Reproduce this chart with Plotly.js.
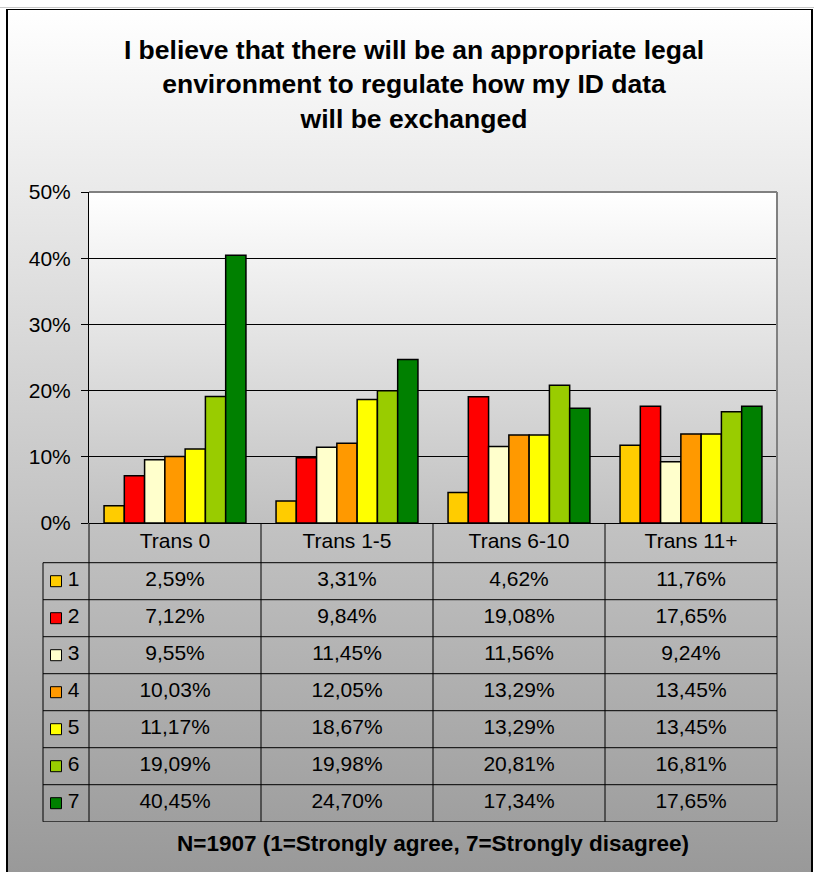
<!DOCTYPE html>
<html>
<head>
<meta charset="utf-8">
<script src="https://cdn.plot.ly/plotly-3.0.1.min.js"></script>
<style>
  html, body { margin: 0; padding: 0; background: #fff; }
  #wrap { position: relative; width: 814px; height: 872px; overflow: hidden; background: #fff; }
  #topline { position: absolute; left: 0; top: 7px; width: 814px; height: 1px; background: #c8c8c8; }
  #frame { position: absolute; left: 6px; top: 9px; width: 807px; height: 900px; box-sizing: border-box;
           border-left: 2px solid #000; border-top: 1px solid #000; border-right: 2px solid #000;
           background: linear-gradient(to bottom, #ffffff 0px, #999999 863px); }
  #plotbg { position: absolute; left: 89px; top: 192px; width: 688px; height: 331px;
            background: linear-gradient(to bottom, #ffffff 0%, #c0c0c0 100%); }
  #chart { position: absolute; left: 0; top: 0; width: 814px; height: 872px; }
</style>
</head>
<body>
<div id="wrap">
  <div id="topline"></div>
  <div id="frame"></div>
  <div id="plotbg"></div>
  <div id="chart"></div>
</div>
<script>
// ---------- data ----------
const categories = ['Trans 0', 'Trans 1-5', 'Trans 6-10', 'Trans 11+'];
const seriesNames = ['1', '2', '3', '4', '5', '6', '7'];
const s1 = [2.59, 3.31, 4.62, 11.76];
const s2 = [7.12, 9.84, 19.08, 17.65];
const s3 = [9.55, 11.45, 11.56, 9.24];
const s4 = [10.03, 12.05, 13.29, 13.45];
const s5 = [11.17, 18.67, 13.29, 13.45];
const s6 = [19.09, 19.98, 20.81, 16.81];
const s7 = [40.45, 24.70, 17.34, 17.65];
const seriesColors = ['#FFCC00', '#FF0000', '#FFFFCC', '#FF9900', '#FFFF00', '#99CC00', '#008000'];
const titleText = '<b>I believe that there will be an appropriate legal<br>environment to regulate how my ID data<br>will be exchanged</b>';
const noteText = '<b>N=1907 (1=Strongly agree, 7=Strongly disagree)</b>';

// ---------- layout geometry (pixels) ----------
const W = 814, H = 872;
const PL = 89, PR = 777, PT = 192, PB = 523;   // plot area
const HB = 562.7, TB = 821.7, LL = 43;          // table header bottom, table bottom, legend column left
const px = v => v / W;
const py = v => 1 - v / H;
const FONT = 'Arial, "Liberation Sans", sans-serif';

const series = [s1, s2, s3, s4, s5, s6, s7];
const traces = [];

// bars
series.forEach((vals, i) => {
  traces.push({
    type: 'bar', x: categories, y: vals, name: seriesNames[i],
    marker: { color: seriesColors[i], line: { color: '#000', width: 1.5 } },
    xaxis: 'x', yaxis: 'y', hoverinfo: 'skip', showlegend: false
  });
});

// table header
traces.push({
  type: 'scatter', mode: 'text', x: categories, y: categories.map(() => 0.5),
  text: categories, textposition: 'middle center',
  textfont: { family: FONT, size: 21, color: '#000' },
  xaxis: 'x', yaxis: 'y3', hoverinfo: 'skip', showlegend: false, cliponaxis: false
});

// table cells
const cx = [], cy = [], ct = [];
series.forEach((vals, i) => {
  vals.forEach((v, j) => {
    cx.push(categories[j]);
    cy.push(i + 0.5);
    ct.push(v.toFixed(2).replace('.', ',') + '%');
  });
});
traces.push({
  type: 'scatter', mode: 'text', x: cx, y: cy, text: ct, textposition: 'middle center',
  textfont: { family: FONT, size: 21, color: '#000' },
  xaxis: 'x', yaxis: 'y2', hoverinfo: 'skip', showlegend: false, cliponaxis: false
});

// legend keys column
const rowPos = seriesNames.map((n, i) => i + 0.5);
traces.push({
  type: 'scatter', mode: 'markers', x: seriesNames.map(() => 13), y: rowPos,
  marker: { symbol: 'square', size: 11, color: seriesColors, line: { color: '#000', width: 1 } },
  xaxis: 'x3', yaxis: 'y2', hoverinfo: 'skip', showlegend: false, cliponaxis: false
});
traces.push({
  type: 'scatter', mode: 'text', x: seriesNames.map(() => 30.5), y: rowPos,
  text: seriesNames, textposition: 'middle center',
  textfont: { family: FONT, size: 21, color: '#000' },
  xaxis: 'x3', yaxis: 'y2', hoverinfo: 'skip', showlegend: false, cliponaxis: false
});

// ---------- table / frame lines ----------
const shapes = [];
const line = (x0, y0, x1, y1, xref, yref, color, width) =>
  shapes.push({ type: 'line', x0, y0, x1, y1, xref, yref, layer: 'above',
                line: { color: color, width: width } });

// plot border top & right (gray)
line(px(PL), py(PT), px(PR), py(PT), 'paper', 'paper', '#808080', 2);
line(px(PR), py(PT), px(PR), py(PB), 'paper', 'paper', '#808080', 2);
// table right border
line(px(PR), py(PB), px(PR), py(TB), 'paper', 'paper', '#404040', 1.5);
// left axis continues down through table
line(px(PL), py(PB), px(PL), py(TB), 'paper', 'paper', '#000', 1);
// category separators
for (let k = 0; k < categories.length - 1; k++) {
  line(k + 0.5, py(PB), k + 0.5, py(TB), 'x', 'paper', '#000', 1);
}
// legend column left border
line(px(LL), py(HB), px(LL), py(TB), 'paper', 'paper', '#000', 1);
// header bottom line
line(px(LL), py(HB), px(PR), py(HB), 'paper', 'paper', '#000', 1);
// row lines
for (let r = 1; r <= seriesNames.length; r++) {
  line(px(LL), r, px(PR), r, 'paper', 'y2', '#000', 1);
}

const layout = {
  width: W, height: H,
  margin: { l: 0, r: 0, t: 0, b: 0, pad: 0 },
  paper_bgcolor: 'rgba(0,0,0,0)', plot_bgcolor: 'rgba(0,0,0,0)',
  font: { family: FONT, color: '#000' },
  showlegend: false,
  barmode: 'group', bargap: 0.175, bargroupgap: 0,
  title: {
    text: titleText, font: { family: FONT, size: 26.5, color: '#000' },
    xref: 'paper', yref: 'paper', x: px(414), xanchor: 'center', y: py(59), yanchor: 'middle'
  },
  xaxis: {
    domain: [px(PL), px(PR)], range: [-0.5, 3.5], type: 'category',
    showticklabels: false, ticks: '', showgrid: false, zeroline: false, showline: false,
    anchor: 'y', fixedrange: true
  },
  yaxis: {
    domain: [py(PB), py(PT)], range: [0, 50], dtick: 10, ticksuffix: '%',
    ticks: 'outside', ticklen: 7, tickwidth: 1, tickcolor: '#000', ticklabelstandoff: 6,
    showgrid: true, gridcolor: '#000', gridwidth: 1,
    zeroline: true, zerolinecolor: '#000', zerolinewidth: 1,
    showline: true, linecolor: '#000', linewidth: 1,
    tickfont: { family: FONT, size: 21, color: '#000' },
    anchor: 'x', fixedrange: true
  },
  yaxis2: { domain: [py(TB), py(HB)], range: [7, 0], visible: false, anchor: 'x', fixedrange: true },
  yaxis3: { domain: [py(HB), py(PB)], range: [0, 1], visible: false, anchor: 'x', fixedrange: true },
  xaxis3: { domain: [px(LL), px(PL)], range: [0, PL - LL], visible: false, anchor: 'y2', fixedrange: true },
  shapes: shapes,
  annotations: [{
    text: noteText, xref: 'paper', yref: 'paper', x: px(433), y: py(843),
    xanchor: 'center', yanchor: 'middle', showarrow: false,
    font: { family: FONT, size: 22.5, color: '#000' }
  }]
};

Plotly.newPlot('chart', traces, layout, { staticPlot: true, displayModeBar: false });
</script>
</body>
</html>
